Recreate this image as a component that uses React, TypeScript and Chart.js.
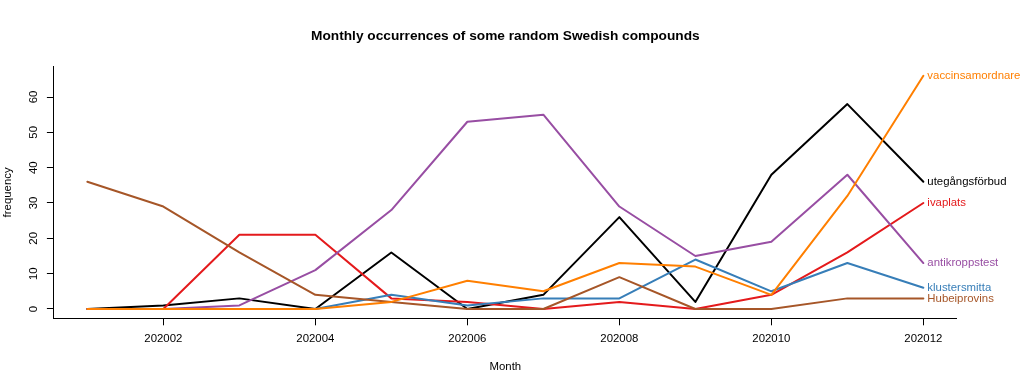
import React, { useEffect, useRef } from "react";
import { Chart, registerables } from "chart.js";

Chart.register(...registerables);

const months = ["202001", "202002", "202003", "202004", "202005", "202006", "202007", "202008", "202009", "202010", "202011", "202012"];
const xTickMonths = [2, 4, 6, 8, 10, 12];
const yTicks = [0, 10, 20, 30, 40, 50, 60];

const utegangsforbud = [0, 1, 3, 0, 16, 0, 4, 26, 2, 38, 58, 36];
const ivaplats = [0, 0, 21, 21, 3, 2, 0, 2, 0, 4, 16, 30];
const klustersmitta = [0, 0, 0, 0, 4, 1, 3, 3, 14, 5, 13, 6];
const antikroppstest = [0, 0, 1, 11, 28, 53, 55, 29, 15, 19, 38, 13];
const hubeiprovins = [36, 29, 16, 4, 2, 0, 0, 9, 0, 0, 3, 3];
const vaccinsamordnare = [0, 0, 0, 0, 2, 8, 5, 13, 12, 4, 32, 66];

const seriesNames = ["vaccinsamordnare", "Hubeiprovins", "antikroppstest", "klustersmitta", "ivaplats", "utegångsförbud"];
const seriesValues = [vaccinsamordnare, hubeiprovins, antikroppstest, klustersmitta, ivaplats, utegangsforbud];
const seriesColors = ["#FF7F00", "#A65628", "#984EA3", "#377EB8", "#E41A1C", "#000000"];

const TITLE = "Monthly occurrences of some random Swedish compounds";
const X_TITLE = "Month";
const Y_TITLE = "frequency";

const FONT = '"Liberation Sans", Arial, sans-serif';

const textPlugin = {
  id: "rtext",
  afterDraw(chart: any) {
    const ctx = chart.ctx;
    const area = chart.chartArea;
    const xs = chart.scales.x;
    const ys = chart.scales.y;
    const cx = (area.left + area.right) / 2;
    const cy = (area.top + area.bottom) / 2;
    ctx.save();
    ctx.fillStyle = "#000";
    ctx.textAlign = "center";
    ctx.textBaseline = "alphabetic";
    ctx.font = `bold 13.7px ${FONT}`;
    ctx.fillText(TITLE, cx, 39.5);
    ctx.font = `11.4px ${FONT}`;
    ctx.fillText(X_TITLE, cx, 370);
    ctx.save();
    ctx.translate(10.5, cy);
    ctx.rotate(-Math.PI / 2);
    ctx.fillText(Y_TITLE, 0, 0);
    ctx.restore();
    yTicks.forEach((v) => {
      ctx.save();
      ctx.translate(36.7, ys.getPixelForValue(v));
      ctx.rotate(-Math.PI / 2);
      ctx.fillText(String(v), 0, 0);
      ctx.restore();
    });
    ctx.textAlign = "left";
    ctx.textBaseline = "middle";
    seriesNames.forEach((name, i) => {
      const vals = seriesValues[i];
      ctx.fillStyle = seriesColors[i];
      ctx.fillText(name, xs.getPixelForValue(vals.length) + 4, ys.getPixelForValue(vals[vals.length - 1]));
    });
    ctx.restore();
  },
};

export default function App() {
  const ref = useRef<HTMLCanvasElement | null>(null);
  useEffect(() => {
    document.body.style.margin = "0";
    Chart.defaults.font.family = FONT;
    const datasets = seriesNames.map((name, i) => ({
      label: name,
      data: seriesValues[i].map((v, j) => ({ x: j + 1, y: v })),
      borderColor: seriesColors[i],
      backgroundColor: seriesColors[i],
      borderWidth: 2,
      pointRadius: 0,
      tension: 0,
      fill: false,
      borderCapStyle: "round",
      borderJoinStyle: "round",
    }));
    const chart = new Chart(ref.current as HTMLCanvasElement, {
      type: "line",
      data: { datasets } as any,
      options: {
        animation: false,
        responsive: false,
        devicePixelRatio: 1,
        layout: { padding: { left: 0, top: 66.5, right: 67.2, bottom: 0 } },
        plugins: { legend: { display: false }, tooltip: { enabled: false }, title: { display: false } },
        scales: {
          x: {
            type: "linear",
            position: "bottom",
            min: 0.56,
            max: 12.44,
            afterBuildTicks: (s: any) => {
              s.ticks = xTickMonths.map((v) => ({ value: v }));
            },
            afterFit: (s: any) => {
              s.height = 372 - 318.3;
            },
            grid: { display: true, drawOnChartArea: false, drawTicks: true, tickLength: 7, tickColor: "#000", tickWidth: 1 },
            border: { display: true, color: "#000", width: 1 },
            ticks: {
              autoSkip: false,
              maxRotation: 0,
              minRotation: 0,
              padding: 7,
              color: "#000",
              font: { size: 11.4, family: FONT },
              callback: (v: any) => months[Math.round(v) - 1] ?? "",
            },
          },
          y: {
            type: "linear",
            min: -2.64,
            max: 68.64,
            afterBuildTicks: (s: any) => {
              s.ticks = yTicks.map((v) => ({ value: v }));
            },
            afterFit: (s: any) => {
              s.width = 53.9;
            },
            grid: { display: true, drawOnChartArea: false, drawTicks: true, tickLength: 7, tickColor: "#000", tickWidth: 1 },
            border: { display: true, color: "#000", width: 1 },
            ticks: { display: false },
          },
        },
      } as any,
      plugins: [textPlugin],
    });
    return () => chart.destroy();
  }, []);
  return (
    <div style={{ position: "absolute", left: 0, top: 0, width: 1024, height: 372, background: "#fff" }}>
      <canvas ref={ref} width={1024} height={372} />
    </div>
  );
}
